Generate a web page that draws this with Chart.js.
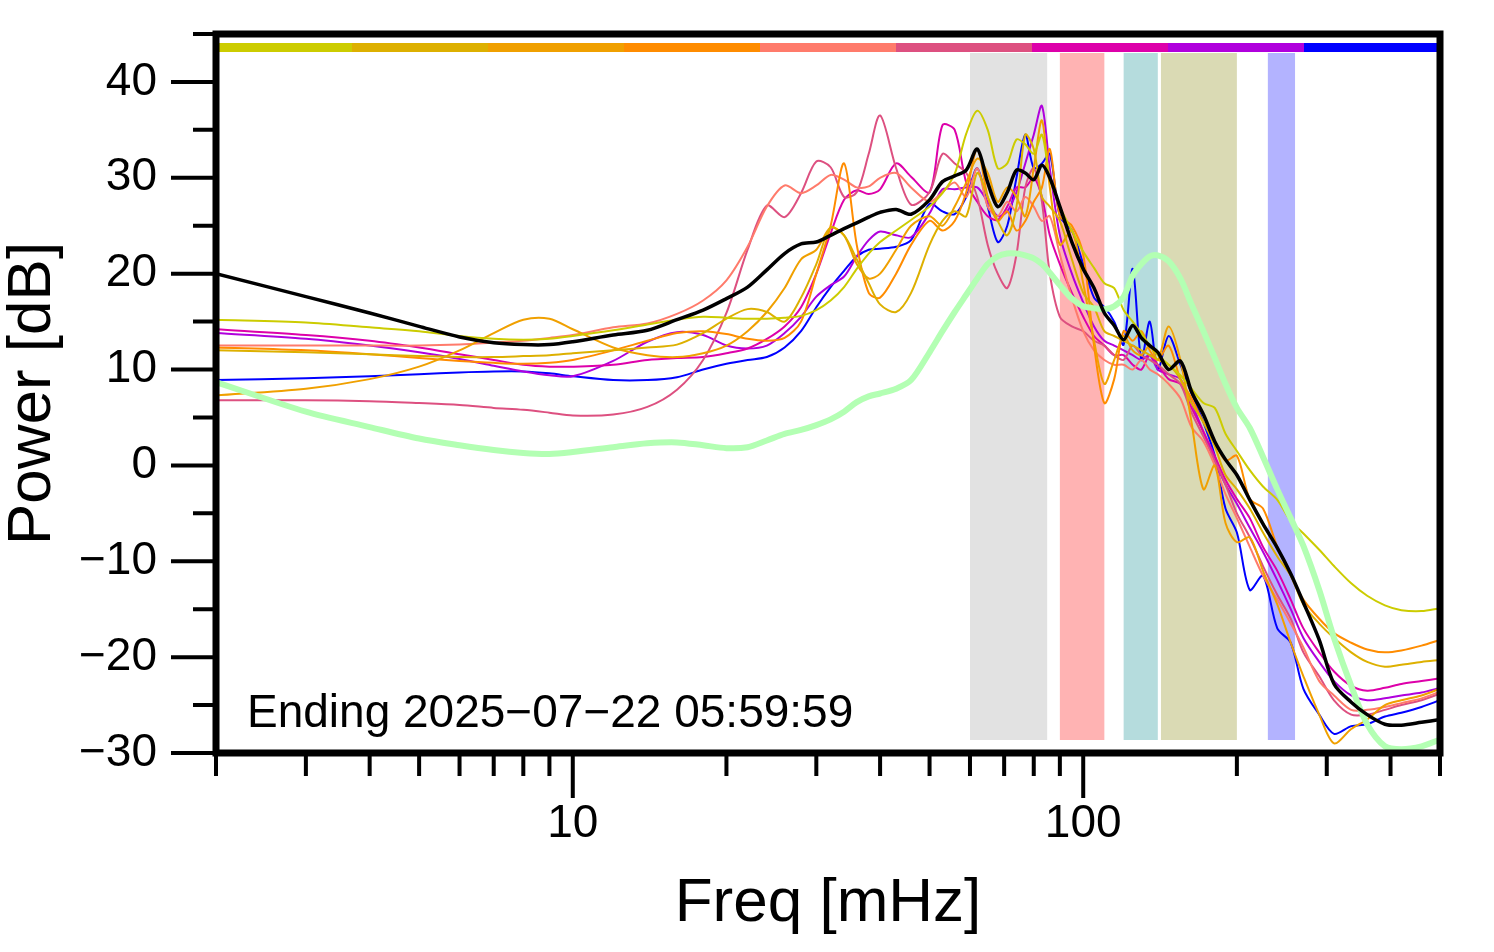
<!DOCTYPE html>
<html>
<head>
<meta charset="utf-8">
<script src="https://cdn.jsdelivr.net/npm/chart.js@4.4.1/dist/chart.umd.min.js"></script>
<style>
  html, body { margin: 0; padding: 0; background: #fff; }
  #wrap { width: 1494px; height: 952px; }
</style>
</head>
<body>
<div id="wrap"><canvas id="psd" width="1494" height="952"></canvas></div>
<script>
// frequencies (mHz) shared by every curve
const freqs = [2,3,4,5,6,7,8,9,10,
  12,14,16,18,20, 22,24,26,28,30, 32,34,36,38,40,
  43,46,50,53,56,59, 62,65,68,71,74,77,80,83,86,
  90,95,100,105,110,115,120,125,130,135,140,
  147,155,163,172,181,190,200, 212,225,240,255,270,290,310,
  335,360,390,420,460,500];

// power (dB) per curve
const pYellow = [15.2,14.9,14.4,14.0,13.5,13.2,13.1,13.2,13.5,
  14.1,14.7,15.2,15.5,15.4, 15.3,15.3,15.4,15.6,16.2, 17.2,18.6,20.5,22.1,23.3,
  24.5,25.6,27.0,28.4,30.4,34.6, 37.0,35.0,31.0,31.5,34.0,33.5,32.5,34.5,30.0,
  27.0,24.5,22.3,20.6,19.0,18.5,16.2,15.0,13.8,12.5,11.5,
  10.5,9.4,8.0,6.5,6.0,3.3,1.5, -0.5,-2.2,-3.6,-5.8,-7.1,-8.8,-10.5,
  -12.3,-13.6,-14.6,-15.1,-15.2,-14.9];
const pGold = [12.0,11.8,11.6,11.4,11.3,11.3,11.4,11.5,11.7,
  12.0,12.3,12.6,13.8,15.3, 16.3,16.0,15.0,17.5,21.0, 24.8,24.0,21.5,19.0,16.8,
  16.0,18.0,23.0,25.5,26.5,26.0, 30.5,28.0,25.5,24.0,27.0,34.5,33.0,28.0,27.0,
  25.5,21.5,18.0,16.5,14.0,13.5,13.0,12.5,12.0,11.5,11.0,
  10.5,9.0,6.5,4.5,2.0,-1.0,-2.5, -4.5,-7.0,-9.5,-11.5,-14.5,-16.5,-18.0,
  -19.5,-20.5,-21.0,-20.8,-20.5,-20.3];
const pOrange = [7.3,8.0,9.0,10.3,12.0,13.8,15.2,15.3,14.2,
  12.3,11.5,11.3,11.7,12.5, 14.0,16.0,18.5,21.5,22.5, 24.8,24.0,21.0,19.5,20.0,
  22.5,25.0,26.0,25.0,27.0,29.5, 32.0,30.5,27.5,29.0,28.0,26.0,31.0,36.0,29.0,
  23.0,24.5,19.0,13.0,8.5,11.0,13.5,12.0,11.5,12.5,11.0,
  14.5,11.0,4.5,-2.5,0.0,-6.0,-8.0, -7.5,-11.0,-14.5,-18.5,-22.0,-26.0,-29.0,
  -27.5,-26.5,-25.0,-24.5,-24.0,-23.3];
const pDarkOrange = [12.3,12.0,11.6,11.2,10.9,10.7,10.6,10.7,11.0,
  12.0,13.0,13.8,14.0,13.7, 13.2,13.0,13.3,15.0,20.0, 25.0,31.5,23.0,18.0,17.5,
  20.0,23.0,25.5,24.5,25.5,28.5, 33.0,28.0,25.5,26.5,24.5,25.5,27.5,29.0,33.0,
  26.0,25.0,22.0,12.5,6.5,9.0,14.0,13.0,14.0,12.0,11.0,
  12.5,9.0,7.0,4.5,2.5,0.5,1.0, -3.5,-4.5,-8.5,-11.5,-14.0,-16.0,-17.5,
  -18.5,-19.2,-19.5,-19.3,-18.8,-18.2];
const pSalmon = [12.5,12.5,12.5,12.5,12.6,12.8,13.0,13.3,13.6,
  14.4,14.8,15.8,17.2,19.3, 22.8,27.0,29.2,28.4,29.2, 30.3,29.8,29.0,29.1,30.0,
  30.5,29.0,27.5,28.5,29.5,28.0, 31.0,27.0,26.0,27.5,26.5,28.0,27.0,25.5,26.0,
  22.0,17.5,14.0,12.0,11.0,10.5,10.5,10.0,11.0,10.0,9.5,
  8.5,7.0,4.0,2.5,0.0,-3.0,-5.5, -8.5,-11.5,-14.0,-16.5,-19.0,-22.5,-24.0,
  -25.5,-25.5,-25.2,-24.8,-24.3,-23.6];
const pRose = [6.8,6.8,6.7,6.5,6.3,6.0,5.8,5.5,5.2,
  5.3,6.1,7.9,11.0,15.9, 22.5,27.1,25.9,28.4,31.7, 31.1,28.0,28.5,32.5,36.5,
  31.0,27.2,28.5,32.5,31.5,30.5, 28.0,23.0,20.0,18.5,22.0,29.0,31.0,27.5,20.0,
  15.5,14.5,14.0,13.0,12.5,11.5,11.0,12.5,11.5,11.0,10.5,
  9.5,8.5,5.5,3.0,0.5,-2.0,-5.0, -7.5,-10.5,-13.5,-16.0,-19.5,-22.0,-24.5,
  -26.0,-26.0,-25.5,-25.0,-24.5,-23.8];
const pMagenta = [14.2,13.6,13.0,12.3,11.6,11.0,10.5,10.3,10.3,
  10.5,11.0,11.2,11.3,11.7, 12.2,13.2,14.5,16.5,20.0, 24.2,27.7,28.7,28.3,28.8,
  31.5,30.1,28.5,35.5,35.0,29.5, 27.5,26.0,25.6,27.0,29.0,29.0,30.0,28.0,24.0,
  21.0,18.0,15.5,13.5,12.5,11.5,11.5,10.5,10.0,11.5,10.5,
  9.0,8.5,6.0,3.5,1.0,-1.5,-3.5, -5.5,-8.5,-11.0,-14.0,-17.0,-19.5,-21.5,
  -23.0,-23.5,-23.2,-22.8,-22.5,-22.2];
const pPurple = [13.8,13.2,12.5,11.8,11.1,10.4,9.8,9.4,9.3,
  10.9,12.9,13.9,13.6,12.5, 12.2,12.5,13.8,15.5,17.6, 18.8,19.7,21.8,23.5,24.4,
  24.0,23.8,26.3,28.8,28.8,29.0, 29.0,27.5,26.0,26.5,28.5,31.5,34.5,37.5,31.0,
  24.0,20.0,17.0,14.5,13.0,12.5,12.0,11.5,11.0,11.5,10.0,
  9.5,9.0,6.5,3.5,0.5,-2.0,-4.0, -6.5,-9.0,-12.0,-15.0,-18.0,-20.5,-22.5,
  -24.0,-24.5,-24.3,-24.0,-23.7,-23.2];
const pBlue = [8.9,9.1,9.3,9.5,9.7,9.8,9.8,9.6,9.3,
  8.9,8.9,9.2,10.0,10.6, 11.0,11.3,12.3,14.0,16.5, 18.6,20.3,21.8,22.5,22.6,
  22.8,23.5,27.3,26.5,26.2,28.0, 31.0,27.0,23.3,25.0,30.0,34.5,31.0,31.5,32.5,
  26.0,24.5,21.0,17.5,16.5,15.0,12.6,20.5,11.0,15.0,10.0,
  13.5,10.5,7.5,4.5,1.0,-4.5,-7.0, -13.0,-11.5,-17.0,-18.5,-23.3,-26.0,-28.0,
  -27.2,-27.0,-26.2,-25.8,-25.2,-24.5];
const pMean = [20.0,17.6,15.9,14.5,13.4,12.8,12.6,12.6,12.9,
  13.6,14.1,15.2,16.2,17.4, 18.6,20.4,22.1,23.1,23.3, 24.0,24.7,25.3,25.9,26.4,
  26.7,26.2,27.7,29.6,30.2,30.8, 33.0,29.5,27.0,28.5,30.8,30.5,29.8,31.3,30.0,
  27.0,23.3,20.5,18.5,15.9,14.6,13.1,14.6,13.3,12.5,11.8,
  10.0,10.9,7.7,5.3,2.5,0.6,-1.0, -3.6,-6.1,-8.6,-11.3,-14.3,-18.2,-22.8,
  -24.7,-26.0,-27.0,-27.1,-26.8,-26.5];
const pReference = [8.7,5.6,4.0,2.8,2.1,1.6,1.3,1.2,1.4,
  1.9,2.3,2.4,2.1,1.8, 1.9,2.6,3.3,3.7,4.2, 4.8,5.6,6.6,7.2,7.5,
  8.0,8.9,11.8,14.0,16.0,17.8, 19.5,21.0,21.8,22.1,22.1,21.9,21.6,21.0,20.1,
  18.8,17.4,16.6,16.4,16.3,16.6,17.6,19.8,21.0,21.8,21.9,
  21.3,19.5,16.8,14.0,11.2,8.5,6.0, 3.9,0.9,-2.5,-5.5,-8.4,-13.0,-18.0,
  -23.0,-27.0,-29.3,-29.6,-29.3,-28.6];

// one colour per hourly curve (also the strip along the top)
const hourColors = ["#cccc00","#ddb000","#f0a000","#ff8c00","#ff7b6b",
                    "#dd5080","#dd00aa","#b000dd","#0000ff"];
const hourCurves = [pYellow,pGold,pOrange,pDarkOrange,pSalmon,pRose,pMagenta,pPurple,pBlue];

// shaded frequency bands (mHz)
const bandLo = [60, 90, 120, 142, 230];
const bandHi = [85, 110, 140, 200, 260];
const bandColors = ["#e2e2e2","#ffb3b3","#b5dcdd","#dadab4","#b3b3ff"];

const xTickVals = [2,3,4,5,6,7,8,9,10,20,30,40,50,60,70,80,90,100,200,300,400,500];
const yTickVals = [-30,-20,-10,0,10,20,30,40];
const stampText = "Ending 2025\u221207\u221222 05:59:59";

const toPts = arr => arr.map((v, i) => ({ x: freqs[i], y: v }));

const datasets = [
  { data: toPts(pMean), borderColor: "#000000", borderWidth: 3.5 },
  { data: toPts(pReference), borderColor: "#b3ffb3", borderWidth: 6 }
];
hourCurves.forEach((arr, i) => {
  datasets.push({ data: toPts(arr), borderColor: hourColors[i], borderWidth: 2 });
});

const decor = {
  id: "decor",
  beforeDatasetsDraw(chart) {
    const { ctx, chartArea: a, scales: { x } } = chart;
    ctx.save();
    const top = a.top + 19, bot = a.bottom - 13;
    bandLo.forEach((lo, i) => {
      const x0 = x.getPixelForValue(lo), x1 = x.getPixelForValue(bandHi[i]);
      ctx.fillStyle = bandColors[i];
      ctx.fillRect(x0, top, x1 - x0, bot - top);
    });
    ctx.restore();
  },
  afterDatasetsDraw(chart) {
    const { ctx, chartArea: a, scales: { x, y } } = chart;
    ctx.save();
    // colour strip
    const w = (a.right - a.left) / hourColors.length;
    hourColors.forEach((c, i) => {
      ctx.fillStyle = c;
      ctx.fillRect(a.left + i * w, a.top + 9, w + 0.5, 9);
    });
    // frame
    ctx.strokeStyle = "#000";
    ctx.lineWidth = 7;
    ctx.strokeRect(a.left, a.top, a.right - a.left, a.bottom - a.top);
    // tick marks
    ctx.lineWidth = 4;
    ctx.beginPath();
    for (let v = -30; v <= 45; v += 5) {
      const py = y.getPixelForValue(v);
      const len = v % 10 === 0 ? 45 : 23;
      ctx.moveTo(a.left, py); ctx.lineTo(a.left - len, py);
    }
    xTickVals.forEach(v => {
      const px = x.getPixelForValue(v);
      const len = (v === 10 || v === 100) ? 45 : 23;
      ctx.moveTo(px, a.bottom); ctx.lineTo(px, a.bottom + len);
    });
    ctx.stroke();
    // stamp
    ctx.fillStyle = "#000";
    ctx.font = "46px 'Liberation Sans', Arial, sans-serif";
    ctx.textBaseline = "alphabetic";
    ctx.fillText(stampText, a.left + 31, a.bottom - 26);
    ctx.restore();
  }
};

new Chart(document.getElementById("psd"), {
  type: "line",
  data: { datasets },
  plugins: [decor],
  options: {
    responsive: false,
    animation: false,
    devicePixelRatio: 1,
    layout: { autoPadding: false, padding: { top: 34, right: 54, left: 0, bottom: 0 } },
    elements: { point: { radius: 0 }, line: { tension: 0.3 } },
    plugins: { legend: { display: false }, tooltip: { enabled: false } },
    scales: {
      x: {
        type: "logarithmic",
        min: 2, max: 500,
        afterFit: s => { s.height = 952 - 753; s.paddingLeft = 0; s.paddingRight = 0; },
        afterBuildTicks: s => { s.ticks = xTickVals.map(v => ({ value: v })); },
        grid: { display: false, drawTicks: false },
        border: { display: false },
        ticks: {
          autoSkip: false, maxRotation: 0, padding: 44, color: "#000",
          font: { family: "'Liberation Sans', Arial, sans-serif", size: 46 },
          callback: v => (v === 10 || v === 100) ? String(v) : ""
        },
        title: {
          display: true, text: "Freq [mHz]", color: "#000",
          font: { family: "'Liberation Sans', Arial, sans-serif", size: 62, lineHeight: 1.1 },
          padding: { top: 0, bottom: 14 }
        }
      },
      y: {
        min: -30, max: 45,
        afterFit: s => { s.width = 216; s.paddingTop = 0; s.paddingBottom = 0; },
        afterBuildTicks: s => { s.ticks = yTickVals.map(v => ({ value: v })); },
        grid: { display: false, drawTicks: false },
        border: { display: false },
        ticks: {
          autoSkip: false, padding: 59, color: "#000",
          font: { family: "'Liberation Sans', Arial, sans-serif", size: 46 },
          callback: v => String(v).replace("-", "\u2212")
        },
        title: {
          display: true, text: "Power [dB]", color: "#000",
          font: { family: "'Liberation Sans', Arial, sans-serif", size: 62, lineHeight: 1.05 },
          padding: { top: 0, bottom: 0 }
        }
      }
    }
  }
});
</script>
</body>
</html>
